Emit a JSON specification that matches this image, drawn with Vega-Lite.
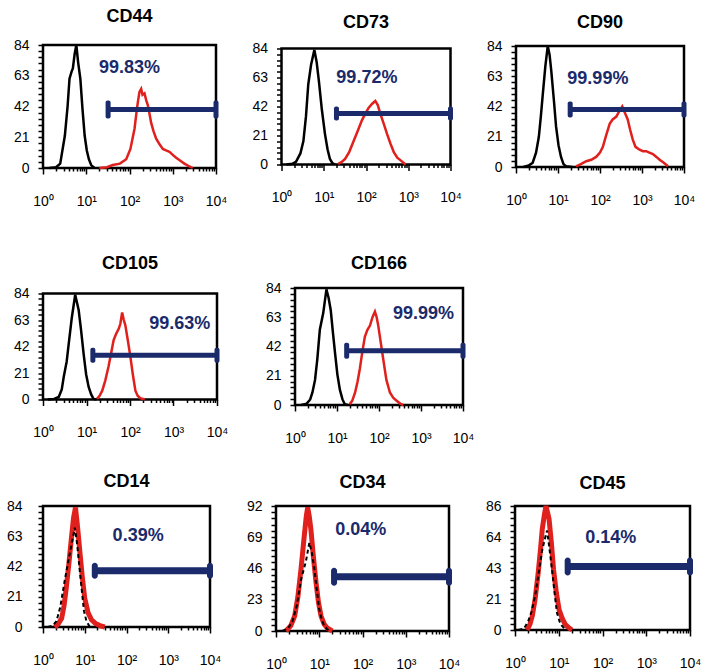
{
  "$schema": "https://vega.github.io/schema/vega-lite/v6.json",
  "background": "white",
  "padding": {"left": 5, "top": 6, "right": 0, "bottom": 0},
  "config": {
    "font": "Liberation Sans",
    "view": {"stroke": "black", "strokeWidth": 2.5},
    "axis": {"domain": false, "grid": false, "labelColor": "black", "tickColor": "black", "labelFont": "Liberation Sans", "tickWidth": 1.5},
    "title": {"fontSize": 18, "fontWeight": "bold", "font": "Liberation Sans", "color": "black", "frame": "group", "baseline": "alphabetic", "anchor": "middle"}
  },
  "datasets": {
    "curves": [
      {"p":"CD44","s":"iso","x":1.4,"y":0},{"p":"CD44","s":"iso","x":2,"y":0.5},{"p":"CD44","s":"iso","x":2.5,"y":3},{"p":"CD44","s":"iso","x":3.2,"y":22},{"p":"CD44","s":"iso","x":3.7,"y":42},{"p":"CD44","s":"iso","x":4.1,"y":61},{"p":"CD44","s":"iso","x":4.6,"y":66},{"p":"CD44","s":"iso","x":4.9,"y":68},{"p":"CD44","s":"iso","x":5.4,"y":78},{"p":"CD44","s":"iso","x":5.9,"y":84},{"p":"CD44","s":"iso","x":6.5,"y":72},{"p":"CD44","s":"iso","x":7.3,"y":61},{"p":"CD44","s":"iso","x":8.2,"y":40},{"p":"CD44","s":"iso","x":9.2,"y":22},{"p":"CD44","s":"iso","x":10.3,"y":12},{"p":"CD44","s":"iso","x":11.5,"y":6},{"p":"CD44","s":"iso","x":13,"y":2},{"p":"CD44","s":"iso","x":15.5,"y":0},
      {"p":"CD44","s":"pos","x":20,"y":0},{"p":"CD44","s":"pos","x":30,"y":0.5},{"p":"CD44","s":"pos","x":41,"y":2},{"p":"CD44","s":"pos","x":60,"y":3},{"p":"CD44","s":"pos","x":84,"y":6},{"p":"CD44","s":"pos","x":105,"y":13},{"p":"CD44","s":"pos","x":131,"y":27},{"p":"CD44","s":"pos","x":145,"y":38},{"p":"CD44","s":"pos","x":156,"y":45},{"p":"CD44","s":"pos","x":170,"y":52},{"p":"CD44","s":"pos","x":186,"y":54},{"p":"CD44","s":"pos","x":200,"y":50},{"p":"CD44","s":"pos","x":222,"y":51},{"p":"CD44","s":"pos","x":245,"y":46},{"p":"CD44","s":"pos","x":265,"y":43},{"p":"CD44","s":"pos","x":290,"y":37},{"p":"CD44","s":"pos","x":316,"y":31},{"p":"CD44","s":"pos","x":360,"y":25},{"p":"CD44","s":"pos","x":414,"y":20},{"p":"CD44","s":"pos","x":500,"y":16},{"p":"CD44","s":"pos","x":590,"y":13},{"p":"CD44","s":"pos","x":700,"y":12},{"p":"CD44","s":"pos","x":840,"y":11},{"p":"CD44","s":"pos","x":1000,"y":9},{"p":"CD44","s":"pos","x":1200,"y":7},{"p":"CD44","s":"pos","x":1500,"y":5},{"p":"CD44","s":"pos","x":1850,"y":3},{"p":"CD44","s":"pos","x":2300,"y":1.5},{"p":"CD44","s":"pos","x":2900,"y":0},
      {"p":"CD73","s":"iso","x":1.3,"y":0},{"p":"CD73","s":"iso","x":1.8,"y":0.5},{"p":"CD73","s":"iso","x":2.2,"y":2},{"p":"CD73","s":"iso","x":2.8,"y":8},{"p":"CD73","s":"iso","x":3.3,"y":17},{"p":"CD73","s":"iso","x":3.8,"y":35},{"p":"CD73","s":"iso","x":4.3,"y":58},{"p":"CD73","s":"iso","x":5,"y":72},{"p":"CD73","s":"iso","x":6,"y":83},{"p":"CD73","s":"iso","x":6.8,"y":74},{"p":"CD73","s":"iso","x":7.7,"y":60},{"p":"CD73","s":"iso","x":9,"y":40},{"p":"CD73","s":"iso","x":10.7,"y":22},{"p":"CD73","s":"iso","x":12.3,"y":11},{"p":"CD73","s":"iso","x":14,"y":4},{"p":"CD73","s":"iso","x":16,"y":1},{"p":"CD73","s":"iso","x":18.6,"y":0},
      {"p":"CD73","s":"pos","x":22,"y":0.5},{"p":"CD73","s":"pos","x":27,"y":2},{"p":"CD73","s":"pos","x":32,"y":4},{"p":"CD73","s":"pos","x":40,"y":9},{"p":"CD73","s":"pos","x":51,"y":17},{"p":"CD73","s":"pos","x":65,"y":25},{"p":"CD73","s":"pos","x":80,"y":32},{"p":"CD73","s":"pos","x":97,"y":37},{"p":"CD73","s":"pos","x":115,"y":41},{"p":"CD73","s":"pos","x":140,"y":44},{"p":"CD73","s":"pos","x":166,"y":46},{"p":"CD73","s":"pos","x":190,"y":43},{"p":"CD73","s":"pos","x":217,"y":37},{"p":"CD73","s":"pos","x":260,"y":30},{"p":"CD73","s":"pos","x":316,"y":22},{"p":"CD73","s":"pos","x":380,"y":15},{"p":"CD73","s":"pos","x":455,"y":9},{"p":"CD73","s":"pos","x":550,"y":5},{"p":"CD73","s":"pos","x":660,"y":3},{"p":"CD73","s":"pos","x":870,"y":0},
      {"p":"CD90","s":"iso","x":1.5,"y":0},{"p":"CD90","s":"iso","x":2,"y":1},{"p":"CD90","s":"iso","x":2.5,"y":3},{"p":"CD90","s":"iso","x":3,"y":10},{"p":"CD90","s":"iso","x":3.5,"y":21},{"p":"CD90","s":"iso","x":3.9,"y":35},{"p":"CD90","s":"iso","x":4.3,"y":49},{"p":"CD90","s":"iso","x":5,"y":70},{"p":"CD90","s":"iso","x":5.7,"y":84},{"p":"CD90","s":"iso","x":6.3,"y":78},{"p":"CD90","s":"iso","x":6.9,"y":67},{"p":"CD90","s":"iso","x":8,"y":46},{"p":"CD90","s":"iso","x":9,"y":28},{"p":"CD90","s":"iso","x":10.3,"y":15},{"p":"CD90","s":"iso","x":11.8,"y":7},{"p":"CD90","s":"iso","x":13.5,"y":2},{"p":"CD90","s":"iso","x":15.5,"y":0.5},{"p":"CD90","s":"iso","x":22,"y":0},
      {"p":"CD90","s":"pos","x":27,"y":0.5},{"p":"CD90","s":"pos","x":35,"y":2},{"p":"CD90","s":"pos","x":47,"y":4},{"p":"CD90","s":"pos","x":62,"y":5},{"p":"CD90","s":"pos","x":81,"y":7},{"p":"CD90","s":"pos","x":100,"y":10},{"p":"CD90","s":"pos","x":117,"y":14},{"p":"CD90","s":"pos","x":140,"y":22},{"p":"CD90","s":"pos","x":170,"y":30},{"p":"CD90","s":"pos","x":200,"y":33},{"p":"CD90","s":"pos","x":245,"y":35},{"p":"CD90","s":"pos","x":290,"y":39},{"p":"CD90","s":"pos","x":339,"y":42},{"p":"CD90","s":"pos","x":400,"y":37},{"p":"CD90","s":"pos","x":457,"y":33},{"p":"CD90","s":"pos","x":520,"y":26},{"p":"CD90","s":"pos","x":603,"y":19},{"p":"CD90","s":"pos","x":700,"y":14},{"p":"CD90","s":"pos","x":875,"y":12},{"p":"CD90","s":"pos","x":1050,"y":11},{"p":"CD90","s":"pos","x":1260,"y":11},{"p":"CD90","s":"pos","x":1500,"y":10},{"p":"CD90","s":"pos","x":1820,"y":9},{"p":"CD90","s":"pos","x":2200,"y":7},{"p":"CD90","s":"pos","x":2630,"y":5},{"p":"CD90","s":"pos","x":3300,"y":3},{"p":"CD90","s":"pos","x":4170,"y":0.5},
      {"p":"CD105","s":"iso","x":1.3,"y":0},{"p":"CD105","s":"iso","x":1.8,"y":0.5},{"p":"CD105","s":"iso","x":2.3,"y":2},{"p":"CD105","s":"iso","x":2.7,"y":8},{"p":"CD105","s":"iso","x":3,"y":18},{"p":"CD105","s":"iso","x":3.5,"y":30},{"p":"CD105","s":"iso","x":3.9,"y":44},{"p":"CD105","s":"iso","x":4.6,"y":65},{"p":"CD105","s":"iso","x":5.5,"y":83},{"p":"CD105","s":"iso","x":6.6,"y":71},{"p":"CD105","s":"iso","x":7.5,"y":55},{"p":"CD105","s":"iso","x":8.6,"y":36},{"p":"CD105","s":"iso","x":9.8,"y":20},{"p":"CD105","s":"iso","x":11.2,"y":10},{"p":"CD105","s":"iso","x":12.8,"y":4},{"p":"CD105","s":"iso","x":14.5,"y":0.5},{"p":"CD105","s":"iso","x":17,"y":0},
      {"p":"CD105","s":"pos","x":17.4,"y":0.5},{"p":"CD105","s":"pos","x":20,"y":3},{"p":"CD105","s":"pos","x":23,"y":7},{"p":"CD105","s":"pos","x":27,"y":15},{"p":"CD105","s":"pos","x":32,"y":26},{"p":"CD105","s":"pos","x":37,"y":37},{"p":"CD105","s":"pos","x":42,"y":47},{"p":"CD105","s":"pos","x":48,"y":52},{"p":"CD105","s":"pos","x":55,"y":56},{"p":"CD105","s":"pos","x":60,"y":60},{"p":"CD105","s":"pos","x":66,"y":69},{"p":"CD105","s":"pos","x":72,"y":63},{"p":"CD105","s":"pos","x":78,"y":59},{"p":"CD105","s":"pos","x":90,"y":46},{"p":"CD105","s":"pos","x":102,"y":34},{"p":"CD105","s":"pos","x":116,"y":20},{"p":"CD105","s":"pos","x":133,"y":7},{"p":"CD105","s":"pos","x":150,"y":3},{"p":"CD105","s":"pos","x":172,"y":1},{"p":"CD105","s":"pos","x":218,"y":0},
      {"p":"CD166","s":"iso","x":1.4,"y":0},{"p":"CD166","s":"iso","x":1.9,"y":1},{"p":"CD166","s":"iso","x":2.3,"y":4},{"p":"CD166","s":"iso","x":2.6,"y":9},{"p":"CD166","s":"iso","x":3,"y":18},{"p":"CD166","s":"iso","x":3.4,"y":33},{"p":"CD166","s":"iso","x":3.9,"y":54},{"p":"CD166","s":"iso","x":4.7,"y":66},{"p":"CD166","s":"iso","x":5.6,"y":83},{"p":"CD166","s":"iso","x":6.3,"y":77},{"p":"CD166","s":"iso","x":7.1,"y":68},{"p":"CD166","s":"iso","x":8,"y":52},{"p":"CD166","s":"iso","x":9,"y":37},{"p":"CD166","s":"iso","x":10.2,"y":22},{"p":"CD166","s":"iso","x":11.7,"y":11},{"p":"CD166","s":"iso","x":13.5,"y":4},{"p":"CD166","s":"iso","x":15.4,"y":0.5},{"p":"CD166","s":"iso","x":18,"y":0},
      {"p":"CD166","s":"pos","x":20,"y":0.5},{"p":"CD166","s":"pos","x":23,"y":3},{"p":"CD166","s":"pos","x":27,"y":9},{"p":"CD166","s":"pos","x":31,"y":17},{"p":"CD166","s":"pos","x":35,"y":26},{"p":"CD166","s":"pos","x":40,"y":38},{"p":"CD166","s":"pos","x":46,"y":49},{"p":"CD166","s":"pos","x":53,"y":54},{"p":"CD166","s":"pos","x":61,"y":57},{"p":"CD166","s":"pos","x":70,"y":63},{"p":"CD166","s":"pos","x":80,"y":67},{"p":"CD166","s":"pos","x":88,"y":63},{"p":"CD166","s":"pos","x":96,"y":57},{"p":"CD166","s":"pos","x":110,"y":45},{"p":"CD166","s":"pos","x":126,"y":33},{"p":"CD166","s":"pos","x":150,"y":18},{"p":"CD166","s":"pos","x":182,"y":9},{"p":"CD166","s":"pos","x":220,"y":5},{"p":"CD166","s":"pos","x":263,"y":3},{"p":"CD166","s":"pos","x":320,"y":1},{"p":"CD166","s":"pos","x":375,"y":0},
      {"p":"CD14","s":"pos","x":1.9,"y":0},{"p":"CD14","s":"pos","x":2.3,"y":2},{"p":"CD14","s":"pos","x":2.8,"y":6},{"p":"CD14","s":"pos","x":3.2,"y":15},{"p":"CD14","s":"pos","x":3.6,"y":27},{"p":"CD14","s":"pos","x":4.2,"y":45},{"p":"CD14","s":"pos","x":4.8,"y":62},{"p":"CD14","s":"pos","x":5.4,"y":76},{"p":"CD14","s":"pos","x":6,"y":83},{"p":"CD14","s":"pos","x":6.7,"y":70},{"p":"CD14","s":"pos","x":7.6,"y":53},{"p":"CD14","s":"pos","x":8.7,"y":35},{"p":"CD14","s":"pos","x":10,"y":20},{"p":"CD14","s":"pos","x":12,"y":10},{"p":"CD14","s":"pos","x":14.5,"y":5},{"p":"CD14","s":"pos","x":18,"y":2.5},{"p":"CD14","s":"pos","x":23,"y":1},{"p":"CD14","s":"pos","x":30,"y":0},
      {"p":"CD14","s":"iso","x":1.3,"y":0},{"p":"CD14","s":"iso","x":1.7,"y":1},{"p":"CD14","s":"iso","x":2.1,"y":4},{"p":"CD14","s":"iso","x":2.6,"y":14},{"p":"CD14","s":"iso","x":3.3,"y":32},{"p":"CD14","s":"iso","x":4,"y":45},{"p":"CD14","s":"iso","x":4.8,"y":57},{"p":"CD14","s":"iso","x":5.8,"y":69},{"p":"CD14","s":"iso","x":6.6,"y":57},{"p":"CD14","s":"iso","x":7.6,"y":39},{"p":"CD14","s":"iso","x":8.6,"y":24},{"p":"CD14","s":"iso","x":9.6,"y":11},{"p":"CD14","s":"iso","x":11,"y":4},{"p":"CD14","s":"iso","x":13,"y":0.5},{"p":"CD14","s":"iso","x":15,"y":0},
      {"p":"CD34","s":"pos","x":1.7,"y":0},{"p":"CD34","s":"pos","x":2.2,"y":4},{"p":"CD34","s":"pos","x":2.7,"y":11},{"p":"CD34","s":"pos","x":3.2,"y":25},{"p":"CD34","s":"pos","x":3.8,"y":46},{"p":"CD34","s":"pos","x":4.5,"y":70},{"p":"CD34","s":"pos","x":5,"y":84},{"p":"CD34","s":"pos","x":5.4,"y":91},{"p":"CD34","s":"pos","x":5.9,"y":84},{"p":"CD34","s":"pos","x":6.4,"y":75},{"p":"CD34","s":"pos","x":7.3,"y":55},{"p":"CD34","s":"pos","x":8.4,"y":36},{"p":"CD34","s":"pos","x":9.6,"y":21},{"p":"CD34","s":"pos","x":11,"y":11},{"p":"CD34","s":"pos","x":13,"y":5},{"p":"CD34","s":"pos","x":15.5,"y":2},{"p":"CD34","s":"pos","x":20,"y":0},
      {"p":"CD34","s":"iso","x":1.4,"y":0},{"p":"CD34","s":"iso","x":1.9,"y":2},{"p":"CD34","s":"iso","x":2.4,"y":7},{"p":"CD34","s":"iso","x":3,"y":18},{"p":"CD34","s":"iso","x":3.8,"y":38},{"p":"CD34","s":"iso","x":4.9,"y":51},{"p":"CD34","s":"iso","x":5.9,"y":65},{"p":"CD34","s":"iso","x":6.7,"y":58},{"p":"CD34","s":"iso","x":7.7,"y":46},{"p":"CD34","s":"iso","x":8.8,"y":30},{"p":"CD34","s":"iso","x":10,"y":16},{"p":"CD34","s":"iso","x":11.5,"y":8},{"p":"CD34","s":"iso","x":13,"y":4},{"p":"CD34","s":"iso","x":15,"y":1.5},{"p":"CD34","s":"iso","x":17,"y":0},
      {"p":"CD45","s":"pos","x":1.9,"y":0},{"p":"CD45","s":"pos","x":2.2,"y":4},{"p":"CD45","s":"pos","x":2.5,"y":10},{"p":"CD45","s":"pos","x":2.9,"y":22},{"p":"CD45","s":"pos","x":3.4,"y":40},{"p":"CD45","s":"pos","x":3.8,"y":55},{"p":"CD45","s":"pos","x":4.2,"y":70},{"p":"CD45","s":"pos","x":4.7,"y":80},{"p":"CD45","s":"pos","x":5.1,"y":86},{"p":"CD45","s":"pos","x":5.5,"y":82},{"p":"CD45","s":"pos","x":6,"y":77},{"p":"CD45","s":"pos","x":6.8,"y":60},{"p":"CD45","s":"pos","x":7.6,"y":42},{"p":"CD45","s":"pos","x":8.8,"y":26},{"p":"CD45","s":"pos","x":10.2,"y":14},{"p":"CD45","s":"pos","x":12,"y":8},{"p":"CD45","s":"pos","x":14,"y":4},{"p":"CD45","s":"pos","x":17,"y":1.5},{"p":"CD45","s":"pos","x":20,"y":0},
      {"p":"CD45","s":"iso","x":1.2,"y":0},{"p":"CD45","s":"iso","x":1.6,"y":1},{"p":"CD45","s":"iso","x":2,"y":6},{"p":"CD45","s":"iso","x":2.4,"y":13},{"p":"CD45","s":"iso","x":2.9,"y":24},{"p":"CD45","s":"iso","x":3.5,"y":40},{"p":"CD45","s":"iso","x":4.1,"y":54},{"p":"CD45","s":"iso","x":4.7,"y":62},{"p":"CD45","s":"iso","x":5.4,"y":69},{"p":"CD45","s":"iso","x":6.1,"y":57},{"p":"CD45","s":"iso","x":7,"y":42},{"p":"CD45","s":"iso","x":8,"y":26},{"p":"CD45","s":"iso","x":9.1,"y":12},{"p":"CD45","s":"iso","x":10.4,"y":6},{"p":"CD45","s":"iso","x":11.8,"y":3},{"p":"CD45","s":"iso","x":13.5,"y":1},{"p":"CD45","s":"iso","x":15.4,"y":0}
    ],
    "gates": [
      {"p":"CD44","start":32,"end":10000,"gy":40,"label":"99.83%","lx":100,"ly":68},
      {"p":"CD73","start":20,"end":10000,"gy":37,"label":"99.72%","lx":105,"ly":63},
      {"p":"CD90","start":19.5,"end":10000,"gy":40,"label":"99.99%","lx":89,"ly":61},
      {"p":"CD105","start":14,"end":10000,"gy":35,"label":"99.63%","lx":1400,"ly":60},
      {"p":"CD166","start":17,"end":10000,"gy":39,"label":"99.99%","lx":1150,"ly":65},
      {"p":"CD14","start":17.4,"end":10000,"gy":39,"label":"0.39%","lx":190,"ly":63},
      {"p":"CD34","start":22,"end":10000,"gy":40,"label":"0.04%","lx":91,"ly":74},
      {"p":"CD45","start":16,"end":10000,"gy":44,"label":"0.14%","lx":155,"ly":64}
    ]
  },
  "spacing": 43,
  "vconcat": [
    {
      "hconcat": [
        {
          "width": 173, "height": 123,
          "title": {"text": "CD44", "offset": 12.5, "frame": "group"},
          "layer": [
            {"data": {"name": "curves"}, "transform": [{"filter": "datum.p=='CD44' && datum.s=='iso'"}],
             "mark": {"type": "line", "color": "black", "strokeWidth": 2.5},
             "encoding": {
               "x": {"field": "x", "type": "quantitative", "title": null, "scale": {"type": "log", "domain": [1, 10000], "nice": false},
                     "axis": {"tickCount": 100, "labelFlush": false, "labelFontSize": 14, "labelPadding": 20, "values": [1,2,3,4,5,6,7,8,9,10,20,30,40,50,60,70,80,90,100,200,300,400,500,600,700,800,900,1000,2000,3000,4000,5000,6000,7000,8000,9000,10000], "labelExpr": "datum.value==1?'10⁰':datum.value==10?'10¹':datum.value==100?'10²':datum.value==1000?'10³':datum.value==10000?'10⁴':''", "tickSize": {"condition": {"test": "datum.value==1||datum.value==10||datum.value==100||datum.value==1000||datum.value==10000", "value": 6}, "value": 3}}},
               "y": {"field": "y", "type": "quantitative", "title": null, "scale": {"domain": [0, 84], "nice": false},
                     "axis": {"tickCount": 100, "labelFontSize": 14, "labelPadding": 9, "tickSize": 5, "values": [0,4.2,8.4,12.6,16.8,21,25.2,29.4,33.6,37.8,42,46.2,50.4,54.6,58.8,63,67.2,71.4,75.6,79.8,84], "labelExpr": "datum.value==0||datum.value==21||datum.value==42||datum.value==63||datum.value==84 ? datum.label : ''"}}
             }},
            {"data": {"name": "curves"}, "transform": [{"filter": "datum.p=='CD44' && datum.s=='pos'"}],
             "mark": {"type": "line", "color": "#e0201c", "strokeWidth": 2.5},
             "encoding": {"x": {"field": "x", "type": "quantitative", "title": null}, "y": {"field": "y", "type": "quantitative", "title": null}}},
            {"data": {"name": "gates"}, "transform": [{"filter": "datum.p=='CD44'"}],
             "mark": {"type": "rule", "color": "#1a2a6a", "strokeWidth": 5},
             "encoding": {"x": {"field": "start", "type": "quantitative", "title": null}, "x2": {"field": "end"}, "y": {"field": "gy", "type": "quantitative", "title": null}}},
            {"data": {"name": "gates"}, "transform": [{"filter": "datum.p=='CD44'"}, {"fold": ["start", "end"], "as": ["k", "v"]}],
             "mark": {"type": "tick", "orient": "vertical", "color": "#1a2a6a", "size": 18, "thickness": 5, "cornerRadius": 2, "opacity": 1},
             "encoding": {"x": {"field": "v", "type": "quantitative", "title": null}, "y": {"field": "gy", "type": "quantitative", "title": null}}},
            {"data": {"name": "gates"}, "transform": [{"filter": "datum.p=='CD44'"}],
             "mark": {"type": "text", "color": "#1a2a6a", "fontSize": 18, "fontWeight": "bold"},
             "encoding": {"x": {"field": "lx", "type": "quantitative", "title": null}, "y": {"field": "ly", "type": "quantitative", "title": null}, "text": {"field": "label"}}}
          ]
        },
        {
          "width": 169, "height": 116,
          "title": {"text": "CD73", "offset": 9.5, "frame": "group"},
          "layer": [
            {"data": {"name": "curves"}, "transform": [{"filter": "datum.p=='CD73' && datum.s=='iso'"}],
             "mark": {"type": "line", "color": "black", "strokeWidth": 2.5},
             "encoding": {
               "x": {"field": "x", "type": "quantitative", "title": null, "scale": {"type": "log", "domain": [1, 10000], "nice": false},
                     "axis": {"tickCount": 100, "labelFlush": false, "labelFontSize": 14, "labelPadding": 20, "values": [1,2,3,4,5,6,7,8,9,10,20,30,40,50,60,70,80,90,100,200,300,400,500,600,700,800,900,1000,2000,3000,4000,5000,6000,7000,8000,9000,10000], "labelExpr": "datum.value==1?'10⁰':datum.value==10?'10¹':datum.value==100?'10²':datum.value==1000?'10³':datum.value==10000?'10⁴':''", "tickSize": {"condition": {"test": "datum.value==1||datum.value==10||datum.value==100||datum.value==1000||datum.value==10000", "value": 6}, "value": 3}}},
               "y": {"field": "y", "type": "quantitative", "title": null, "scale": {"domain": [0, 84], "nice": false},
                     "axis": {"tickCount": 100, "labelFontSize": 14, "labelPadding": 9, "tickSize": 5, "values": [0,4.2,8.4,12.6,16.8,21,25.2,29.4,33.6,37.8,42,46.2,50.4,54.6,58.8,63,67.2,71.4,75.6,79.8,84], "labelExpr": "datum.value==0||datum.value==21||datum.value==42||datum.value==63||datum.value==84 ? datum.label : ''"}}
             }},
            {"data": {"name": "curves"}, "transform": [{"filter": "datum.p=='CD73' && datum.s=='pos'"}],
             "mark": {"type": "line", "color": "#e0201c", "strokeWidth": 2.5},
             "encoding": {"x": {"field": "x", "type": "quantitative", "title": null}, "y": {"field": "y", "type": "quantitative", "title": null}}},
            {"data": {"name": "gates"}, "transform": [{"filter": "datum.p=='CD73'"}],
             "mark": {"type": "rule", "color": "#1a2a6a", "strokeWidth": 5},
             "encoding": {"x": {"field": "start", "type": "quantitative", "title": null}, "x2": {"field": "end"}, "y": {"field": "gy", "type": "quantitative", "title": null}}},
            {"data": {"name": "gates"}, "transform": [{"filter": "datum.p=='CD73'"}, {"fold": ["start", "end"], "as": ["k", "v"]}],
             "mark": {"type": "tick", "orient": "vertical", "color": "#1a2a6a", "size": 14, "thickness": 5, "cornerRadius": 2, "opacity": 1},
             "encoding": {"x": {"field": "v", "type": "quantitative", "title": null}, "y": {"field": "gy", "type": "quantitative", "title": null}}},
            {"data": {"name": "gates"}, "transform": [{"filter": "datum.p=='CD73'"}],
             "mark": {"type": "text", "color": "#1a2a6a", "fontSize": 18, "fontWeight": "bold"},
             "encoding": {"x": {"field": "lx", "type": "quantitative", "title": null}, "y": {"field": "ly", "type": "quantitative", "title": null}, "text": {"field": "label"}}}
          ]
        },
        {
          "width": 168, "height": 121,
          "title": {"text": "CD90", "offset": 7, "frame": "group"},
          "layer": [
            {"data": {"name": "curves"}, "transform": [{"filter": "datum.p=='CD90' && datum.s=='iso'"}],
             "mark": {"type": "line", "color": "black", "strokeWidth": 2.5},
             "encoding": {
               "x": {"field": "x", "type": "quantitative", "title": null, "scale": {"type": "log", "domain": [1, 10000], "nice": false},
                     "axis": {"tickCount": 100, "labelFlush": false, "labelFontSize": 14, "labelPadding": 20, "values": [1,2,3,4,5,6,7,8,9,10,20,30,40,50,60,70,80,90,100,200,300,400,500,600,700,800,900,1000,2000,3000,4000,5000,6000,7000,8000,9000,10000], "labelExpr": "datum.value==1?'10⁰':datum.value==10?'10¹':datum.value==100?'10²':datum.value==1000?'10³':datum.value==10000?'10⁴':''", "tickSize": {"condition": {"test": "datum.value==1||datum.value==10||datum.value==100||datum.value==1000||datum.value==10000", "value": 6}, "value": 3}}},
               "y": {"field": "y", "type": "quantitative", "title": null, "scale": {"domain": [0, 84], "nice": false},
                     "axis": {"tickCount": 100, "labelFontSize": 14, "labelPadding": 9, "tickSize": 5, "values": [0,4.2,8.4,12.6,16.8,21,25.2,29.4,33.6,37.8,42,46.2,50.4,54.6,58.8,63,67.2,71.4,75.6,79.8,84], "labelExpr": "datum.value==0||datum.value==21||datum.value==42||datum.value==63||datum.value==84 ? datum.label : ''"}}
             }},
            {"data": {"name": "curves"}, "transform": [{"filter": "datum.p=='CD90' && datum.s=='pos'"}],
             "mark": {"type": "line", "color": "#e0201c", "strokeWidth": 2.5},
             "encoding": {"x": {"field": "x", "type": "quantitative", "title": null}, "y": {"field": "y", "type": "quantitative", "title": null}}},
            {"data": {"name": "gates"}, "transform": [{"filter": "datum.p=='CD90'"}],
             "mark": {"type": "rule", "color": "#1a2a6a", "strokeWidth": 5},
             "encoding": {"x": {"field": "start", "type": "quantitative", "title": null}, "x2": {"field": "end"}, "y": {"field": "gy", "type": "quantitative", "title": null}}},
            {"data": {"name": "gates"}, "transform": [{"filter": "datum.p=='CD90'"}, {"fold": ["start", "end"], "as": ["k", "v"]}],
             "mark": {"type": "tick", "orient": "vertical", "color": "#1a2a6a", "size": 16, "thickness": 5, "cornerRadius": 2, "opacity": 1},
             "encoding": {"x": {"field": "v", "type": "quantitative", "title": null}, "y": {"field": "gy", "type": "quantitative", "title": null}}},
            {"data": {"name": "gates"}, "transform": [{"filter": "datum.p=='CD90'"}],
             "mark": {"type": "text", "color": "#1a2a6a", "fontSize": 18, "fontWeight": "bold"},
             "encoding": {"x": {"field": "lx", "type": "quantitative", "title": null}, "y": {"field": "ly", "type": "quantitative", "title": null}, "text": {"field": "label"}}}
          ]
        }
      ],
      "spacing": 65.5, "bounds": "flush", "center": {"row": true, "column": false}
    },
    {
      "spacing": 24,
      "vconcat": [
        {
          "hconcat": [
            {
              "width": 174, "height": 106,
              "title": {"text": "CD105", "offset": 13.5, "frame": "group"},
              "layer": [
                {"data": {"name": "curves"}, "transform": [{"filter": "datum.p=='CD105' && datum.s=='iso'"}],
                 "mark": {"type": "line", "color": "black", "strokeWidth": 2.5},
                 "encoding": {
                   "x": {"field": "x", "type": "quantitative", "title": null, "scale": {"type": "log", "domain": [1, 10000], "nice": false},
                         "axis": {"tickCount": 100, "labelFlush": false, "labelFontSize": 14, "labelPadding": 20, "values": [1,2,3,4,5,6,7,8,9,10,20,30,40,50,60,70,80,90,100,200,300,400,500,600,700,800,900,1000,2000,3000,4000,5000,6000,7000,8000,9000,10000], "labelExpr": "datum.value==1?'10⁰':datum.value==10?'10¹':datum.value==100?'10²':datum.value==1000?'10³':datum.value==10000?'10⁴':''", "tickSize": {"condition": {"test": "datum.value==1||datum.value==10||datum.value==100||datum.value==1000||datum.value==10000", "value": 6}, "value": 3}}},
                   "y": {"field": "y", "type": "quantitative", "title": null, "scale": {"domain": [0, 84], "nice": false},
                         "axis": {"tickCount": 100, "labelFontSize": 14, "labelPadding": 9, "tickSize": 5, "values": [0,4.2,8.4,12.6,16.8,21,25.2,29.4,33.6,37.8,42,46.2,50.4,54.6,58.8,63,67.2,71.4,75.6,79.8,84], "labelExpr": "datum.value==0||datum.value==21||datum.value==42||datum.value==63||datum.value==84 ? datum.label : ''"}}
                 }},
                {"data": {"name": "curves"}, "transform": [{"filter": "datum.p=='CD105' && datum.s=='pos'"}],
                 "mark": {"type": "line", "color": "#e0201c", "strokeWidth": 2.5},
                 "encoding": {"x": {"field": "x", "type": "quantitative", "title": null}, "y": {"field": "y", "type": "quantitative", "title": null}}},
                {"data": {"name": "gates"}, "transform": [{"filter": "datum.p=='CD105'"}],
                 "mark": {"type": "rule", "color": "#1a2a6a", "strokeWidth": 5},
                 "encoding": {"x": {"field": "start", "type": "quantitative", "title": null}, "x2": {"field": "end"}, "y": {"field": "gy", "type": "quantitative", "title": null}}},
                {"data": {"name": "gates"}, "transform": [{"filter": "datum.p=='CD105'"}, {"fold": ["start", "end"], "as": ["k", "v"]}],
                 "mark": {"type": "tick", "orient": "vertical", "color": "#1a2a6a", "size": 15, "thickness": 5, "cornerRadius": 2, "opacity": 1},
                 "encoding": {"x": {"field": "v", "type": "quantitative", "title": null}, "y": {"field": "gy", "type": "quantitative", "title": null}}},
                {"data": {"name": "gates"}, "transform": [{"filter": "datum.p=='CD105'"}],
                 "mark": {"type": "text", "color": "#1a2a6a", "fontSize": 18, "fontWeight": "bold"},
                 "encoding": {"x": {"field": "lx", "type": "quantitative", "title": null}, "y": {"field": "ly", "type": "quantitative", "title": null}, "text": {"field": "label"}}}
              ]
            },
            {
              "width": 168, "height": 117,
              "title": {"text": "CD166", "offset": 8, "frame": "group"},
              "layer": [
                {"data": {"name": "curves"}, "transform": [{"filter": "datum.p=='CD166' && datum.s=='iso'"}],
                 "mark": {"type": "line", "color": "black", "strokeWidth": 2.5},
                 "encoding": {
                   "x": {"field": "x", "type": "quantitative", "title": null, "scale": {"type": "log", "domain": [1, 10000], "nice": false},
                         "axis": {"tickCount": 100, "labelFlush": false, "labelFontSize": 14, "labelPadding": 20, "values": [1,2,3,4,5,6,7,8,9,10,20,30,40,50,60,70,80,90,100,200,300,400,500,600,700,800,900,1000,2000,3000,4000,5000,6000,7000,8000,9000,10000], "labelExpr": "datum.value==1?'10⁰':datum.value==10?'10¹':datum.value==100?'10²':datum.value==1000?'10³':datum.value==10000?'10⁴':''", "tickSize": {"condition": {"test": "datum.value==1||datum.value==10||datum.value==100||datum.value==1000||datum.value==10000", "value": 6}, "value": 3}}},
                   "y": {"field": "y", "type": "quantitative", "title": null, "scale": {"domain": [0, 84], "nice": false},
                         "axis": {"tickCount": 100, "labelFontSize": 14, "labelPadding": 9, "tickSize": 5, "values": [0,4.2,8.4,12.6,16.8,21,25.2,29.4,33.6,37.8,42,46.2,50.4,54.6,58.8,63,67.2,71.4,75.6,79.8,84], "labelExpr": "datum.value==0||datum.value==21||datum.value==42||datum.value==63||datum.value==84 ? datum.label : ''"}}
                 }},
                {"data": {"name": "curves"}, "transform": [{"filter": "datum.p=='CD166' && datum.s=='pos'"}],
                 "mark": {"type": "line", "color": "#e0201c", "strokeWidth": 2.5},
                 "encoding": {"x": {"field": "x", "type": "quantitative", "title": null}, "y": {"field": "y", "type": "quantitative", "title": null}}},
                {"data": {"name": "gates"}, "transform": [{"filter": "datum.p=='CD166'"}],
                 "mark": {"type": "rule", "color": "#1a2a6a", "strokeWidth": 5},
                 "encoding": {"x": {"field": "start", "type": "quantitative", "title": null}, "x2": {"field": "end"}, "y": {"field": "gy", "type": "quantitative", "title": null}}},
                {"data": {"name": "gates"}, "transform": [{"filter": "datum.p=='CD166'"}, {"fold": ["start", "end"], "as": ["k", "v"]}],
                 "mark": {"type": "tick", "orient": "vertical", "color": "#1a2a6a", "size": 16, "thickness": 5, "cornerRadius": 2, "opacity": 1},
                 "encoding": {"x": {"field": "v", "type": "quantitative", "title": null}, "y": {"field": "gy", "type": "quantitative", "title": null}}},
                {"data": {"name": "gates"}, "transform": [{"filter": "datum.p=='CD166'"}],
                 "mark": {"type": "text", "color": "#1a2a6a", "fontSize": 18, "fontWeight": "bold"},
                 "encoding": {"x": {"field": "lx", "type": "quantitative", "title": null}, "y": {"field": "ly", "type": "quantitative", "title": null}, "text": {"field": "label"}}}
              ]
            }
          ],
          "spacing": 78, "bounds": "flush", "center": {"row": true, "column": false}
        },
        {
          "hconcat": [
            {
              "width": 167, "height": 121,
              "title": {"text": "CD14", "offset": 6.5, "frame": "group"},
              "layer": [
                {"data": {"name": "curves"}, "transform": [{"filter": "datum.p=='CD14' && datum.s=='pos'"}],
                 "mark": {"type": "line", "color": "#e0201c", "strokeWidth": 5},
                 "encoding": {
                   "x": {"field": "x", "type": "quantitative", "title": null, "scale": {"type": "log", "domain": [1, 10000], "nice": false},
                         "axis": {"tickCount": 100, "labelFlush": false, "labelFontSize": 14, "labelPadding": 20, "values": [1,2,3,4,5,6,7,8,9,10,20,30,40,50,60,70,80,90,100,200,300,400,500,600,700,800,900,1000,2000,3000,4000,5000,6000,7000,8000,9000,10000], "labelExpr": "datum.value==1?'10⁰':datum.value==10?'10¹':datum.value==100?'10²':datum.value==1000?'10³':datum.value==10000?'10⁴':''", "tickSize": {"condition": {"test": "datum.value==1||datum.value==10||datum.value==100||datum.value==1000||datum.value==10000", "value": 6}, "value": 3}}},
                   "y": {"field": "y", "type": "quantitative", "title": null, "scale": {"domain": [0, 84], "nice": false},
                         "axis": {"tickCount": 100, "labelFontSize": 14, "labelPadding": 16, "tickSize": 5, "values": [0,4.2,8.4,12.6,16.8,21,25.2,29.4,33.6,37.8,42,46.2,50.4,54.6,58.8,63,67.2,71.4,75.6,79.8,84], "labelExpr": "datum.value==0||datum.value==21||datum.value==42||datum.value==63||datum.value==84 ? datum.label : ''"}}
                 }},
                {"data": {"name": "curves"}, "transform": [{"filter": "datum.p=='CD14' && datum.s=='iso'"}],
                 "mark": {"type": "line", "color": "black", "strokeWidth": 2, "strokeDash": [4, 3]},
                 "encoding": {"x": {"field": "x", "type": "quantitative", "title": null}, "y": {"field": "y", "type": "quantitative", "title": null}}},
                {"data": {"name": "gates"}, "transform": [{"filter": "datum.p=='CD14'"}],
                 "mark": {"type": "rule", "color": "#1a2a6a", "strokeWidth": 7},
                 "encoding": {"x": {"field": "start", "type": "quantitative", "title": null}, "x2": {"field": "end"}, "y": {"field": "gy", "type": "quantitative", "title": null}}},
                {"data": {"name": "gates"}, "transform": [{"filter": "datum.p=='CD14'"}, {"fold": ["start", "end"], "as": ["k", "v"]}],
                 "mark": {"type": "tick", "orient": "vertical", "color": "#1a2a6a", "size": 16, "thickness": 6, "cornerRadius": 3, "opacity": 1},
                 "encoding": {"x": {"field": "v", "type": "quantitative", "title": null}, "y": {"field": "gy", "type": "quantitative", "title": null}}},
                {"data": {"name": "gates"}, "transform": [{"filter": "datum.p=='CD14'"}],
                 "mark": {"type": "text", "color": "#1a2a6a", "fontSize": 18, "fontWeight": "bold"},
                 "encoding": {"x": {"field": "lx", "type": "quantitative", "title": null}, "y": {"field": "ly", "type": "quantitative", "title": null}, "text": {"field": "label"}}}
              ]
            },
            {
              "width": 173, "height": 125,
              "title": {"text": "CD34", "offset": 5, "frame": "group"},
              "layer": [
                {"data": {"name": "curves"}, "transform": [{"filter": "datum.p=='CD34' && datum.s=='pos'"}],
                 "mark": {"type": "line", "color": "#e0201c", "strokeWidth": 5},
                 "encoding": {
                   "x": {"field": "x", "type": "quantitative", "title": null, "scale": {"type": "log", "domain": [1, 10000], "nice": false},
                         "axis": {"tickCount": 100, "labelFlush": false, "labelFontSize": 14, "labelPadding": 20, "values": [1,2,3,4,5,6,7,8,9,10,20,30,40,50,60,70,80,90,100,200,300,400,500,600,700,800,900,1000,2000,3000,4000,5000,6000,7000,8000,9000,10000], "labelExpr": "datum.value==1?'10⁰':datum.value==10?'10¹':datum.value==100?'10²':datum.value==1000?'10³':datum.value==10000?'10⁴':''", "tickSize": {"condition": {"test": "datum.value==1||datum.value==10||datum.value==100||datum.value==1000||datum.value==10000", "value": 6}, "value": 3}}},
                   "y": {"field": "y", "type": "quantitative", "title": null, "scale": {"domain": [0, 92], "nice": false},
                         "axis": {"tickCount": 100, "labelFontSize": 14, "labelPadding": 9, "tickSize": 5, "values": [0,4.6,9.2,13.8,18.4,23,27.6,32.2,36.8,41.4,46,50.6,55.2,59.8,64.4,69,73.6,78.2,82.8,87.4,92], "labelExpr": "datum.value==0||datum.value==23||datum.value==46||datum.value==69||datum.value==92 ? datum.label : ''"}}
                 }},
                {"data": {"name": "curves"}, "transform": [{"filter": "datum.p=='CD34' && datum.s=='iso'"}],
                 "mark": {"type": "line", "color": "black", "strokeWidth": 2, "strokeDash": [4, 3]},
                 "encoding": {"x": {"field": "x", "type": "quantitative", "title": null}, "y": {"field": "y", "type": "quantitative", "title": null}}},
                {"data": {"name": "gates"}, "transform": [{"filter": "datum.p=='CD34'"}],
                 "mark": {"type": "rule", "color": "#1a2a6a", "strokeWidth": 7},
                 "encoding": {"x": {"field": "start", "type": "quantitative", "title": null}, "x2": {"field": "end"}, "y": {"field": "gy", "type": "quantitative", "title": null}}},
                {"data": {"name": "gates"}, "transform": [{"filter": "datum.p=='CD34'"}, {"fold": ["start", "end"], "as": ["k", "v"]}],
                 "mark": {"type": "tick", "orient": "vertical", "color": "#1a2a6a", "size": 18, "thickness": 6, "cornerRadius": 3, "opacity": 1},
                 "encoding": {"x": {"field": "v", "type": "quantitative", "title": null}, "y": {"field": "gy", "type": "quantitative", "title": null}}},
                {"data": {"name": "gates"}, "transform": [{"filter": "datum.p=='CD34'"}],
                 "mark": {"type": "text", "color": "#1a2a6a", "fontSize": 18, "fontWeight": "bold"},
                 "encoding": {"x": {"field": "lx", "type": "quantitative", "title": null}, "y": {"field": "ly", "type": "quantitative", "title": null}, "text": {"field": "label"}}}
              ]
            },
            {
              "width": 175, "height": 124,
              "title": {"text": "CD45", "offset": 3, "frame": "group"},
              "layer": [
                {"data": {"name": "curves"}, "transform": [{"filter": "datum.p=='CD45' && datum.s=='pos'"}],
                 "mark": {"type": "line", "color": "#e0201c", "strokeWidth": 5},
                 "encoding": {
                   "x": {"field": "x", "type": "quantitative", "title": null, "scale": {"type": "log", "domain": [1, 10000], "nice": false},
                         "axis": {"tickCount": 100, "labelFlush": false, "labelFontSize": 14, "labelPadding": 20, "values": [1,2,3,4,5,6,7,8,9,10,20,30,40,50,60,70,80,90,100,200,300,400,500,600,700,800,900,1000,2000,3000,4000,5000,6000,7000,8000,9000,10000], "labelExpr": "datum.value==1?'10⁰':datum.value==10?'10¹':datum.value==100?'10²':datum.value==1000?'10³':datum.value==10000?'10⁴':''", "tickSize": {"condition": {"test": "datum.value==1||datum.value==10||datum.value==100||datum.value==1000||datum.value==10000", "value": 6}, "value": 3}}},
                   "y": {"field": "y", "type": "quantitative", "title": null, "scale": {"domain": [0, 86], "nice": false},
                         "axis": {"tickCount": 100, "labelFontSize": 14, "labelPadding": 9, "tickSize": 5, "values": [0,4.3,8.6,12.9,17.2,21.5,25.8,30.1,34.4,38.7,43,47.3,51.6,55.9,60.2,64.5,68.8,73.1,77.4,81.7,86], "labelExpr": "datum.value==0||datum.value==21.5||datum.value==43||datum.value==64.5||datum.value==86 ? '' + floor(datum.value) : ''"}}
                 }},
                {"data": {"name": "curves"}, "transform": [{"filter": "datum.p=='CD45' && datum.s=='iso'"}],
                 "mark": {"type": "line", "color": "black", "strokeWidth": 2, "strokeDash": [4, 3]},
                 "encoding": {"x": {"field": "x", "type": "quantitative", "title": null}, "y": {"field": "y", "type": "quantitative", "title": null}}},
                {"data": {"name": "gates"}, "transform": [{"filter": "datum.p=='CD45'"}],
                 "mark": {"type": "rule", "color": "#1a2a6a", "strokeWidth": 7},
                 "encoding": {"x": {"field": "start", "type": "quantitative", "title": null}, "x2": {"field": "end"}, "y": {"field": "gy", "type": "quantitative", "title": null}}},
                {"data": {"name": "gates"}, "transform": [{"filter": "datum.p=='CD45'"}, {"fold": ["start", "end"], "as": ["k", "v"]}],
                 "mark": {"type": "tick", "orient": "vertical", "color": "#1a2a6a", "size": 18, "thickness": 6, "cornerRadius": 3, "opacity": 1},
                 "encoding": {"x": {"field": "v", "type": "quantitative", "title": null}, "y": {"field": "gy", "type": "quantitative", "title": null}}},
                {"data": {"name": "gates"}, "transform": [{"filter": "datum.p=='CD45'"}],
                 "mark": {"type": "text", "color": "#1a2a6a", "fontSize": 18, "fontWeight": "bold"},
                 "encoding": {"x": {"field": "lx", "type": "quantitative", "title": null}, "y": {"field": "ly", "type": "quantitative", "title": null}, "text": {"field": "label"}}}
              ]
            }
          ],
          "spacing": 66, "bounds": "flush"
        }
      ]
    }
  ]
}
